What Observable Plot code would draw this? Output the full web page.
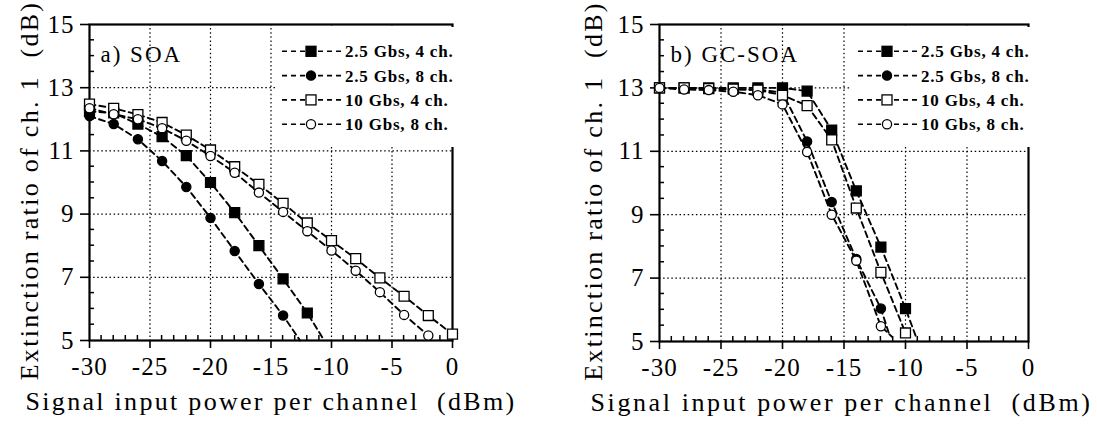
<!DOCTYPE html>
<html>
<head>
<meta charset="utf-8">
<script src="https://cdn.jsdelivr.net/npm/d3@7"></script>
<script src="https://cdn.jsdelivr.net/npm/@observablehq/plot@0.6"></script>
<style>
  body { margin: 0; background: #fff; }
  #wrap { position: relative; width: 1097px; height: 425px; overflow: hidden; background: #fff; }
  #wrap svg { position: absolute; top: 0; overflow: visible; background: #fff; max-width: none; }
  #wrap svg text { font-family: "Liberation Serif", "Times New Roman", serif; fill: #000; }
  g.legend text { font-size: 17px; font-weight: bold; letter-spacing: 0.8px; }
</style>
</head>
<body>
<div id="wrap"></div>
<script>
// ---------- data ----------
const xPower = [-30, -28, -26, -24, -22, -20, -18, -16, -14, -12, -10, -8, -6, -4, -2, 0];
const seriesLabels = ["2.5 Gbs, 4 ch.", "2.5 Gbs, 8 ch.", "10 Gbs, 4 ch.", "10 Gbs, 8 ch."];
const seriesSymbols = ["square", "circle", "square", "circle"];
const seriesFills = ["black", "black", "white", "white"];

// a) SOA
const soa25g4 = [12.25, 12.2, 11.85, 11.45, 10.85, 10.0, 9.05, 8.0, 6.95, 5.87];
const soa25g8 = [12.1, 11.85, 11.37, 10.68, 9.86, 8.88, 7.83, 6.79, 5.79];
const soa10g4 = [12.48, 12.35, 12.15, 11.9, 11.5, 11.03, 10.5, 9.94, 9.34, 8.72, 8.16, 7.59, 6.98, 6.4, 5.79, 5.2];
const soa10g8 = [12.35, 12.16, 12.0, 11.72, 11.32, 10.84, 10.31, 9.68, 9.07, 8.46, 7.85, 7.21, 6.53, 5.81, 5.16];
const soaTailX = [-10.6, -12.6, null, null];
const soaTailY = [5.0, 5.0, null, null];

// b) GC-SOA
const gc25g4 = [13, 13, 13, 13, 13, 13.0, 12.9, 11.67, 9.75, 7.98, 6.04];
const gc25g8 = [13, 13, 12.98, 12.95, 12.95, 12.85, 11.31, 9.4, 7.6, 6.04];
const gc10g4 = [13, 13, 12.98, 12.96, 12.93, 12.77, 12.44, 11.36, 9.21, 7.18, 5.27];
const gc10g8 = [13, 12.95, 12.93, 12.88, 12.77, 12.48, 10.98, 9.0, 7.55, 5.48];
const gcTailX = [-9.1, -11.3, null, -11.1];
const gcTailY = [5.1, 5.2, null, 5.15];

// axes
const xTicks = [-30, -25, -20, -15, -10, -5, 0];
const yTicks = [5, 7, 9, 11, 13, 15];
const xGrid = [-25, -20, -15, -10, -5];
const yGrid = [7, 9, 11, 13];
const xMinor = [-29, -28, -27, -26, -24, -23, -22, -21, -19, -18, -17, -16, -14, -13, -12, -11, -9, -8, -7, -6, -4, -3, -2, -1];
const yMinor = [5.5, 6, 6.5, 7.5, 8, 8.5, 9.5, 10, 10.5, 11.5, 12, 12.5, 13.5, 14, 14.5];

const xTitle = "Signal input power per channel  (dBm)";
const yTitle = "Extinction ratio of ch. 1  (dB)";

// ---------- helpers ----------
function buildPoints(seriesArrays) {
  const rows = [];
  seriesArrays.forEach((vals, s) => {
    vals.forEach((v, i) => rows.push({x: xPower[i], y: v, s}));
  });
  return rows;
}
function buildLines(seriesArrays, tailX, tailY) {
  const rows = [];
  seriesArrays.forEach((vals, s) => {
    vals.forEach((v, i) => rows.push({x: xPower[i], y: v, s}));
    if (tailX[s] != null) rows.push({x: tailX[s], y: tailY[s], s});
  });
  return rows;
}

function minorTicks(xs, ys) {
  return (index, scales, values, dim) => {
    const g = d3.create("svg:g").attr("stroke", "black").attr("stroke-width", 1.5);
    const bottom = dim.height - dim.marginBottom, left = dim.marginLeft;
    for (const v of xs) {
      const px = scales.x(v);
      g.append("line").attr("x1", px).attr("x2", px).attr("y1", bottom).attr("y2", bottom - 5);
    }
    for (const v of ys) {
      const py = scales.y(v);
      g.append("line").attr("x1", left).attr("x2", left + 5).attr("y1", py).attr("y2", py);
    }
    return g.node();
  };
}

function legendMark() {
  return (index, scales, values, dim) => {
    const R = dim.width - dim.marginRight, T = dim.marginTop;
    const g = d3.create("svg:g").attr("class", "legend");
    g.append("rect").attr("x", R - 177).attr("y", T + 3).attr("width", 184).attr("height", 120).attr("fill", "white");
    seriesLabels.forEach((lab, i) => {
      const cy = T + 27.3 + i * 24.3;
      g.append("line").attr("x1", R - 170).attr("x2", R - 111).attr("y1", cy).attr("y2", cy)
        .attr("stroke", "black").attr("stroke-width", 1.6).attr("stroke-dasharray", "5,4");
      const mx = R - 141;
      if (seriesSymbols[i] === "square") {
        g.append("rect").attr("x", mx - 5).attr("y", cy - 5).attr("width", 10).attr("height", 10)
          .attr("fill", seriesFills[i]).attr("stroke", "black").attr("stroke-width", 1.3);
      } else {
        g.append("circle").attr("cx", mx).attr("cy", cy).attr("r", 4.6)
          .attr("fill", seriesFills[i]).attr("stroke", "black").attr("stroke-width", 1.3);
      }
      g.append("text").attr("x", R - 107).attr("y", cy).attr("dy", "0.35em")
        .attr("text-anchor", "start").text(lab);
    });
    return g.node();
  };
}

function panel(cfg) {
  const pts = buildPoints(cfg.series);
  const lines = buildLines(cfg.series, cfg.tailX, cfg.tailY);
  const dotMarks = seriesLabels.map((lab, s) =>
    Plot.dot(pts.filter(d => d.s === s), {
      x: "x", y: "y",
      symbol: seriesSymbols[s],
      r: seriesSymbols[s] === "square" ? 5.6 : 4.6,
      fill: seriesFills[s], stroke: "black", strokeWidth: 1.3
    })
  );
  const svg = Plot.plot({
    width: cfg.width,
    height: 425,
    marginLeft: cfg.ml, marginRight: cfg.mr, marginTop: 24, marginBottom: cfg.mb,
    x: {domain: [-30, 0], ticks: xTicks, tickSize: 8, tickPadding: 9, tickFormat: d => String(d), label: null},
    y: {domain: [5, 15], ticks: yTicks, tickSize: 9, tickPadding: 6, tickFormat: d => String(d), label: null},
    marks: [
      Plot.ruleX(xGrid, {stroke: "black", strokeWidth: 1.2, strokeDasharray: "1.5,2.6"}),
      Plot.ruleY(yGrid, {stroke: "black", strokeWidth: 1.2, strokeDasharray: "1.5,2.6"}),
      Plot.frame({stroke: "black", strokeWidth: 2.2}),
      legendMark(),
      minorTicks(xMinor, yMinor),
      Plot.line(lines, {x: "x", y: "y", z: "s", stroke: "black", strokeWidth: 1.9, strokeDasharray: "6,4"}),
      ...dotMarks,
      Plot.text([cfg.label], {frameAnchor: "top-left", text: d => d, dx: 11, dy: 21.5, lineAnchor: "top",
        textAnchor: "start", fontSize: 23}),
      Plot.text([xTitle], {frameAnchor: "bottom", text: d => d, dx: cfg.xtdx, dy: 60.7, fontSize: 26,
        textAnchor: "middle", lineAnchor: "middle"}),
      Plot.text([yTitle], {frameAnchor: "left", text: d => d, rotate: -90, dx: cfg.ytdx, dy: 8, fontSize: 26,
        textAnchor: "middle", lineAnchor: "middle"})
    ]
  });
  // typographic touches (letter spacing, tick label size) applied to Plot's own text nodes
  d3.select(svg).selectAll("text").each(function () {
    const t = this.textContent;
    const sel = d3.select(this);
    if (/^-?\d+$/.test(t)) sel.style("font-size", "25px").style("letter-spacing", "1px");
    else if (t === xTitle) sel.style("letter-spacing", cfg.xtls);
    else if (t === yTitle) sel.style("letter-spacing", "2.3px");
    else if (t === cfg.label) sel.style("letter-spacing", "2px");
  });
  d3.select(svg).selectAll('g[aria-label$="axis tick"]').attr("stroke-width", 1.6);
  return svg;
}

const wrap = document.getElementById("wrap");
const left = panel({
  width: 540, ml: 89, mr: 88, mb: 85,
  series: [soa25g4, soa25g8, soa10g4, soa10g8],
  tailX: soaTailX, tailY: soaTailY,
  label: "a) SOA", xtdx: 0, xtls: "2.3px", ytdx: -60
});
left.style.left = "0px";
wrap.appendChild(left);

const right = panel({
  width: 557, ml: 119, mr: 69, mb: 84,
  series: [gc25g4, gc25g8, gc10g4, gc10g8],
  tailX: gcTailX, tailY: gcTailY,
  label: "b) GC-SOA", xtdx: -2.5, xtls: "2.6px", ytdx: -66
});
right.style.left = "540px";
wrap.appendChild(right);
</script>
</body>
</html>
